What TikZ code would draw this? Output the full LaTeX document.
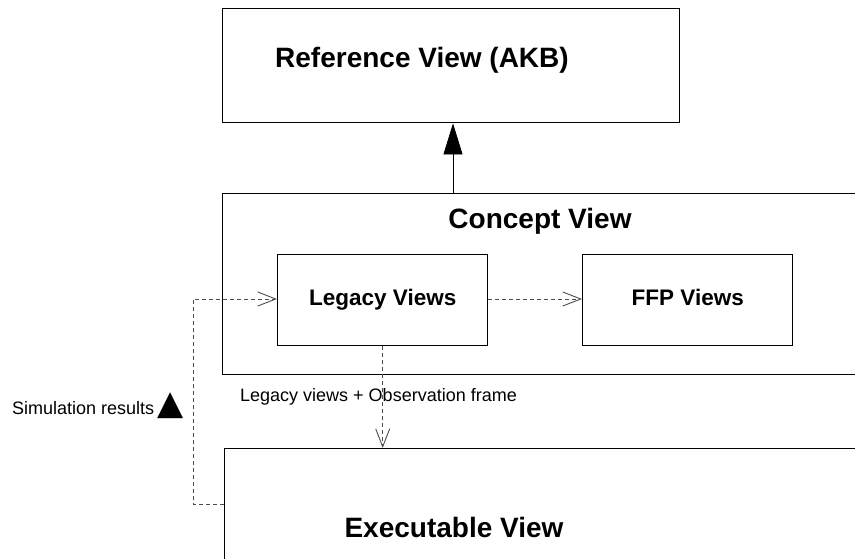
\documentclass[tikz,border=0pt]{standalone}
\usepackage{fontspec}
\setmainfont{Liberation Sans}
\newfontfamily\symfont{DejaVu Sans}
\usetikzlibrary{arrows.meta}

\begin{document}
\begin{tikzpicture}[
		x=1pt, y=-1pt,
		viewbox/.style={draw, line width=1.4pt, inner sep=0pt, anchor=north west},
		bigtitle/.style={font=\bfseries\fontsize{28}{32}\selectfont},
		subtitle/.style={font=\bfseries\fontsize{22.5}{26}\selectfont, text height=16pt, text depth=5pt},
		note/.style={font=\fontsize{18}{21}\selectfont, inner sep=0pt, anchor=west},
		flow/.style={draw=black!70, dash pattern=on 4pt off 3pt, line width=0.9pt,
				-{Straight Barb[length=18pt,width=14pt]}}
	]
	\useasboundingbox (0,0) rectangle (855,558);
	\clip (0,0) rectangle (855,558);

	% boxes
	\node[viewbox, minimum width=457pt, minimum height=114pt] (ref) at (222,8) {};
	\node[viewbox, minimum width=700pt, minimum height=181pt] (concept) at (222,193) {};
	\node[viewbox, minimum width=210pt, minimum height=91pt, subtitle] (legacy) at (277,254) {Legacy Views};
	\node[viewbox, minimum width=210pt, minimum height=91pt, subtitle] (ffp) at (582,254) {FFP Views};
	\node[viewbox, minimum width=700pt, minimum height=150pt] (exec) at (224,448) {};

	% titles
	\node[bigtitle] (reftext) at (422,60) {Reference View (AKB)};
	\node[bigtitle] (concepttext) at (540,221) {Concept View};
	\node[bigtitle] (exectext) at (454,527) {Executable View};

	% connectors
	\coordinate (up) at (453,0);
	\draw[line width=0.8pt, -{Triangle[length=31pt,width=19pt]}] (concept.north -| up) -- (ref.south -| up);
	\draw[flow] (legacy.south) -- (exec.north -| legacy.south);
	\coordinate (fbtop) at (193,299);
	\coordinate (fbbot) at (193,504);
	\draw[flow] (fbtop -| legacy.east) -- (fbtop -| ffp.west);
	\draw[flow] (fbbot -| exec.west) -- (fbbot) -- (fbtop) -- (fbtop -| legacy.west);

	% labels
	\node[note] (obslabel) at (240,397) {Legacy views + Observation frame};
	\node[note] (simlabel) at (12,406) {Simulation results\,{\symfont\fontsize{34}{34}\selectfont ▲}};
\end{tikzpicture}
\end{document}
